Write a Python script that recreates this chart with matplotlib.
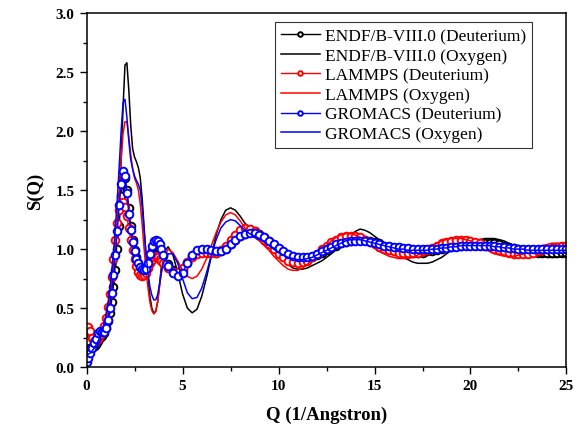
import numpy as np
import matplotlib
matplotlib.use("Agg")
import matplotlib.pyplot as plt
from matplotlib.ticker import MultipleLocator

# sample positions (1/Angstrom): fine below 4, then every 0.25
q = np.concatenate([np.round(np.arange(0, 4.05, 0.1), 2), np.arange(4.25, 25.01, 0.25)])

# ENDF/B-VIII.0
endf_d = [0.14, 0.15, 0.16, 0.17, 0.19, 0.21, 0.23, 0.25, 0.26, 0.29,
          0.33, 0.39, 0.46, 0.55, 0.68, 0.82, 1.00, 1.20, 1.45, 1.60,
          1.60, 1.50, 1.35, 1.20, 1.08, 0.99, 0.93, 0.88, 0.85, 0.83,
          0.82, 0.83, 0.86, 0.92, 0.98, 1.02, 1.03, 1.02, 1.00, 0.97, 0.94,
          0.87, 0.82, 0.80, 0.82, 0.88, 0.94, 0.98, 0.99, 0.99, 0.98, 0.97, 0.98,
          1.00, 1.04, 1.08, 1.11, 1.13, 1.15, 1.15, 1.13, 1.10, 1.07, 1.03, 1.00,
          0.97, 0.94, 0.92, 0.91, 0.91, 0.92, 0.93, 0.95, 0.97, 0.99, 1.01, 1.03,
          1.05, 1.06, 1.07, 1.08, 1.08, 1.08, 1.07, 1.06, 1.05, 1.03, 1.02, 1.00,
          0.99, 0.98, 0.97, 0.97, 0.97, 0.97, 0.98, 0.98, 0.99, 1.00, 1.01, 1.02,
          1.03, 1.03, 1.04, 1.04, 1.04, 1.05, 1.05, 1.05, 1.05, 1.04, 1.03, 1.02,
          1.01, 1.00, 0.99, 0.98, 0.98, 0.97, 0.97, 0.97, 0.97, 0.97, 0.97, 0.97]
endf_o = [0.12, 0.12, 0.12, 0.13, 0.13, 0.14, 0.15, 0.17, 0.20, 0.24,
          0.29, 0.36, 0.45, 0.56, 0.70, 0.88, 1.10, 1.38, 1.75, 2.20,
          2.56, 2.58, 2.35, 2.05, 1.85, 1.78, 1.74, 1.69, 1.60, 1.42,
          1.18, 0.95, 0.76, 0.60, 0.50, 0.46, 0.47, 0.55, 0.70, 0.86, 0.97,
          1.02, 0.95, 0.80, 0.62, 0.50, 0.46, 0.49, 0.60, 0.76, 0.94, 1.12, 1.25,
          1.33, 1.35, 1.33, 1.28, 1.22, 1.18, 1.15, 1.13, 1.10, 1.06, 1.01, 0.96,
          0.92, 0.87, 0.84, 0.83, 0.83, 0.84, 0.86, 0.88, 0.90, 0.93, 0.96, 1.00,
          1.04, 1.08, 1.12, 1.15, 1.17, 1.16, 1.14, 1.11, 1.08, 1.05, 1.02, 0.99,
          0.96, 0.93, 0.91, 0.89, 0.88, 0.88, 0.88, 0.89, 0.91, 0.93, 0.96, 0.99,
          1.01, 1.03, 1.05, 1.06, 1.07, 1.08, 1.09, 1.09, 1.09, 1.08, 1.07, 1.05,
          1.03, 1.01, 0.99, 0.97, 0.96, 0.95, 0.94, 0.93, 0.93, 0.93, 0.94, 0.94]

# LAMMPS
lammps_d = [0.30, 0.34, 0.31, 0.25, 0.22, 0.22, 0.24, 0.27, 0.30, 0.35,
            0.42, 0.51, 0.62, 0.76, 0.92, 1.08, 1.22, 1.33, 1.39, 1.40,
            1.36, 1.28, 1.18, 1.08, 0.99, 0.92, 0.86, 0.81, 0.78, 0.77,
            0.78, 0.80, 0.84, 0.88, 0.91, 0.93, 0.94, 0.93, 0.92, 0.90, 0.88,
            0.84, 0.81, 0.81, 0.84, 0.89, 0.93, 0.96, 0.97, 0.97, 0.97, 0.97, 0.99,
            1.03, 1.08, 1.12, 1.16, 1.18, 1.17, 1.15, 1.12, 1.08, 1.04, 1.00, 0.96,
            0.93, 0.90, 0.89, 0.88, 0.89, 0.90, 0.93, 0.96, 1.00, 1.03, 1.06, 1.08,
            1.10, 1.11, 1.11, 1.11, 1.10, 1.08, 1.06, 1.04, 1.02, 1.00, 0.99, 0.98,
            0.97, 0.97, 0.97, 0.97, 0.97, 0.98, 0.99, 1.01, 1.03, 1.05, 1.06, 1.07,
            1.08, 1.08, 1.08, 1.07, 1.06, 1.05, 1.03, 1.02, 1.00, 0.99, 0.98, 0.97,
            0.96, 0.96, 0.96, 0.96, 0.97, 0.98, 0.99, 1.00, 1.01, 1.02, 1.03, 1.03]
lammps_o = [0.14, 0.14, 0.15, 0.16, 0.17, 0.19, 0.21, 0.24, 0.28, 0.33,
            0.39, 0.47, 0.57, 0.70, 0.86, 1.04, 1.25, 1.48, 1.76, 1.98,
            2.08, 2.08, 1.95, 1.80, 1.68, 1.60, 1.56, 1.50, 1.38, 1.20,
            1.00, 0.82, 0.67, 0.55, 0.48, 0.45, 0.47, 0.55, 0.68, 0.82, 0.92,
            1.00, 0.97, 0.90, 0.82, 0.77, 0.75, 0.77, 0.83, 0.92, 1.03, 1.14, 1.23,
            1.29, 1.31, 1.29, 1.24, 1.18, 1.13, 1.10, 1.07, 1.03, 0.99, 0.94, 0.90,
            0.86, 0.83, 0.82, 0.82, 0.84, 0.87, 0.91, 0.95, 0.99, 1.03, 1.07, 1.10,
            1.12, 1.13, 1.13, 1.12, 1.10, 1.07, 1.04, 1.01, 0.98, 0.96, 0.94, 0.93,
            0.92, 0.92, 0.92, 0.93, 0.95, 0.97, 1.00, 1.03, 1.05, 1.07, 1.08, 1.09,
            1.09, 1.09, 1.08, 1.07, 1.05, 1.03, 1.00, 0.98, 0.96, 0.95, 0.94, 0.94,
            0.94, 0.95, 0.96, 0.98, 0.99, 1.01, 1.03, 1.04, 1.05, 1.05, 1.05, 1.05]

# GROMACS
gromacs_d = [0.04, 0.08, 0.12, 0.16, 0.20, 0.24, 0.29, 0.31, 0.30, 0.30,
             0.33, 0.40, 0.50, 0.63, 0.78, 0.95, 1.15, 1.37, 1.55, 1.66,
             1.62, 1.48, 1.30, 1.16, 1.06, 0.98, 0.92, 0.88, 0.85, 0.83,
             0.82, 0.83, 0.88, 0.96, 1.03, 1.07, 1.08, 1.07, 1.04, 1.00, 0.95,
             0.86, 0.80, 0.77, 0.80, 0.88, 0.95, 0.99, 1.00, 1.00, 0.99, 0.98, 0.98,
             1.00, 1.04, 1.08, 1.11, 1.13, 1.14, 1.14, 1.12, 1.10, 1.07, 1.04, 1.01,
             0.98, 0.96, 0.94, 0.93, 0.93, 0.93, 0.94, 0.96, 0.98, 1.00, 1.02, 1.04,
             1.05, 1.06, 1.07, 1.07, 1.07, 1.07, 1.06, 1.05, 1.04, 1.03, 1.03, 1.02,
             1.02, 1.01, 1.01, 1.00, 1.00, 1.00, 1.00, 1.00, 1.00, 1.01, 1.01, 1.02,
             1.02, 1.03, 1.03, 1.03, 1.03, 1.03, 1.03, 1.03, 1.03, 1.02, 1.02, 1.01,
             1.01, 1.00, 1.00, 1.00, 1.00, 1.00, 1.00, 1.00, 1.00, 1.00, 1.00, 1.00]
gromacs_o = [0.10, 0.11, 0.12, 0.14, 0.16, 0.19, 0.22, 0.26, 0.30, 0.36,
             0.43, 0.52, 0.64, 0.79, 0.97, 1.18, 1.42, 1.70, 2.00, 2.24,
             2.27, 2.12, 1.92, 1.76, 1.68, 1.62, 1.58, 1.55, 1.50, 1.35,
             1.15, 0.95, 0.80, 0.68, 0.61, 0.57, 0.57, 0.61, 0.70, 0.80, 0.88,
             0.96, 0.96, 0.88, 0.75, 0.63, 0.58, 0.59, 0.67, 0.80, 0.95, 1.08, 1.18,
             1.23, 1.25, 1.24, 1.20, 1.16, 1.13, 1.11, 1.09, 1.06, 1.03, 1.00, 0.97,
             0.95, 0.93, 0.92, 0.91, 0.91, 0.92, 0.93, 0.95, 0.97, 0.99, 1.01, 1.03,
             1.05, 1.07, 1.08, 1.08, 1.08, 1.07, 1.06, 1.05, 1.04, 1.03, 1.02, 1.01,
             1.00, 1.00, 0.99, 0.99, 0.99, 0.99, 0.99, 1.00, 1.00, 1.01, 1.01, 1.02,
             1.02, 1.03, 1.03, 1.03, 1.03, 1.03, 1.03, 1.03, 1.02, 1.02, 1.01, 1.01,
             1.00, 1.00, 1.00, 0.99, 0.99, 0.99, 0.99, 0.99, 0.99, 0.99, 0.99, 0.99]

plt.rcParams['font.family'] = ['Liberation Serif', 'DejaVu Serif']

fig = plt.figure(figsize=(5.81, 4.31), dpi=100)
ax = fig.add_axes([0.149, 0.146, 0.826, 0.821])

mk = dict(marker='o', markersize=5.5, markerfacecolor='white', markeredgewidth=1.4)
ax.plot(q, endf_d, color='black', lw=1, label='ENDF/B-VIII.0 (Deuterium)', **mk)
ax.plot(q, endf_o, color='black', lw=1.1, label='ENDF/B-VIII.0 (Oxygen)')
ax.plot(q, lammps_d, color='red', lw=1, label='LAMMPS (Deuterium)', **mk)
ax.plot(q, lammps_o, color='red', lw=1.1, label='LAMMPS (Oxygen)')
ax.plot(q, gromacs_d, color='blue', lw=1, label='GROMACS (Deuterium)', **mk)
ax.plot(q, gromacs_o, color='blue', lw=1.1, label='GROMACS (Oxygen)')

ax.set_xlim(0, 25)
ax.set_ylim(0, 3.0)
ax.xaxis.set_major_locator(MultipleLocator(5))
ax.xaxis.set_minor_locator(MultipleLocator(2.5))
ax.yaxis.set_major_locator(MultipleLocator(0.5))
ax.yaxis.set_minor_locator(MultipleLocator(0.25))
ax.yaxis.set_major_formatter(plt.FormatStrFormatter('%.1f'))
ax.tick_params(which='both', direction='out', top=False, right=False, width=1)
ax.tick_params(which='major', length=5, labelsize=11)
ax.tick_params(which='minor', length=3)
for lab in ax.get_xticklabels() + ax.get_yticklabels():
    lab.set_fontweight('bold')
for s in ax.spines.values():
    s.set_linewidth(1.1)

ax.set_xlabel('Q (1/Angstron)', fontsize=13.5, fontweight='bold', labelpad=10)
ax.set_ylabel('S(Q)', fontsize=13.5, fontweight='bold', labelpad=8)

leg = ax.legend(loc='upper right', bbox_to_anchor=(0.928, 0.975), numpoints=1,
                fontsize=12.5, frameon=True, fancybox=False, edgecolor='black',
                handlelength=2.2, labelspacing=0.2, borderpad=0.35,
                borderaxespad=0, handletextpad=0.3, markerscale=0.6)
leg.get_frame().set_linewidth(0.8)

fig.savefig('out.png', dpi=100)
